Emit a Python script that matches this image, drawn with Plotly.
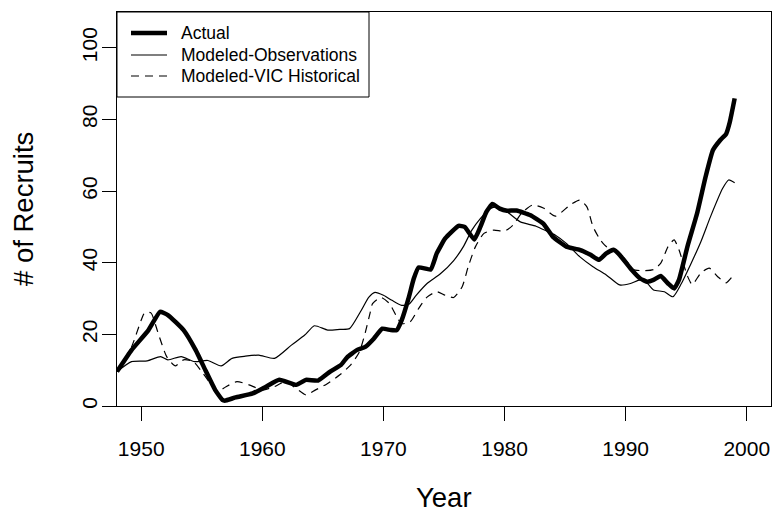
import plotly.graph_objects as go

# Recruit counts by year (fractional years where the series bends)
actual_year = [1948.0, 1949.2, 1950.6, 1951.55, 1952.2, 1953.5, 1954.5, 1955.3, 1956.1, 1956.7,
               1956.9, 1957.8, 1959.2, 1960.3, 1961.4, 1962.8, 1963.6, 1964.6, 1965.6, 1966.5,
               1967.0, 1967.8, 1968.5, 1969.2, 1969.9, 1970.6, 1971.1, 1971.5, 1972.1, 1972.5,
               1972.9, 1973.9, 1974.4, 1975.1, 1976.2, 1976.7, 1977.5, 1978.0, 1978.5, 1979.0,
               1979.6, 1980.2, 1981.0, 1982.1, 1983.2, 1984.0, 1985.1, 1986.2, 1987.1, 1987.8,
               1988.4, 1989.0, 1989.5, 1990.4, 1991.2, 1991.8, 1992.3, 1992.9, 1993.5, 1994.0,
               1994.4, 1995.1, 1995.9, 1996.6, 1997.2, 1997.8, 1998.3, 1998.6, 1999.0]
actual = [9.6, 15.6, 21.2, 26.3, 25.4, 21.2, 15.6, 10.0, 4.5, 1.7,
          1.5, 2.4, 3.5, 5.4, 7.3, 5.9, 7.3, 7.1, 9.6, 11.5,
          13.6, 15.6, 16.5, 18.8, 21.6, 21.2, 21.2, 23.9, 30.4, 35.5,
          38.7, 38.1, 42.6, 46.8, 50.3, 50.0, 46.5, 50.0, 54.2, 56.4,
          55.1, 54.5, 54.6, 53.3, 50.9, 47.2, 44.5, 43.6, 42.2, 40.8,
          42.6, 43.6, 42.2, 38.4, 35.6, 34.7, 35.2, 36.3, 34.2, 32.8,
          35.2, 44.5, 53.8, 64.0, 71.4, 74.2, 76.0, 79.3, 85.9]

obs_year = [1948.0, 1949.2, 1950.5, 1951.6, 1952.2, 1953.3, 1954.4, 1955.5, 1956.6, 1957.5,
            1958.6, 1959.7, 1961.0, 1962.4, 1963.5, 1964.3, 1965.4, 1966.4, 1967.2, 1968.1,
            1968.8, 1969.3, 1970.0, 1970.7, 1971.5, 1972.1, 1972.7, 1973.6, 1974.7, 1975.8,
            1976.6, 1977.3, 1978.0, 1978.8, 1979.4, 1980.2, 1981.3, 1982.6, 1983.5, 1984.2,
            1985.1, 1986.2, 1987.3, 1988.4, 1989.5, 1990.4, 1991.2, 1991.8, 1992.3, 1993.2,
            1993.9, 1994.6, 1995.4, 1996.2, 1997.0, 1998.0, 1998.5, 1999.0]
modeled_obs = [9.6, 12.4, 12.6, 13.8, 12.9, 13.8, 12.4, 12.7, 11.2, 13.3,
               13.9, 14.2, 13.3, 17.0, 19.8, 22.4, 21.2, 21.4, 21.6, 26.3,
               30.4, 31.7, 30.9, 29.5, 28.1, 28.4, 30.9, 34.2, 36.9, 40.6,
               44.5, 49.1, 52.3, 55.1, 55.6, 54.2, 51.4, 50.2, 48.8, 47.7,
               45.4, 41.7, 38.9, 36.6, 33.8, 34.2, 35.2, 34.2, 32.4, 31.9,
               30.5, 34.2, 39.8, 45.8, 52.8, 60.7, 63.1, 62.3]

vic_year = [1948.0, 1949.2, 1950.0, 1950.3, 1950.8, 1951.4, 1952.1, 1952.8, 1953.5, 1954.3,
            1955.1, 1955.9, 1956.3, 1957.0, 1957.9, 1958.9, 1960.0, 1961.0, 1961.9, 1962.8,
            1963.6, 1964.4, 1965.3, 1966.4, 1967.3, 1968.0, 1968.5, 1968.9, 1969.1, 1969.8,
            1970.5, 1971.1, 1971.5, 1972.2, 1972.9, 1973.6, 1974.4, 1975.1, 1975.8, 1976.5,
            1977.0, 1977.6, 1978.3, 1979.1, 1980.0, 1980.7, 1981.4, 1982.3, 1983.2, 1984.2,
            1985.4, 1986.2, 1986.8, 1987.3, 1987.9, 1988.4, 1989.2, 1990.1, 1990.6, 1991.5,
            1992.3, 1992.9, 1993.5, 1994.0, 1994.4, 1995.1, 1995.5, 1996.2, 1996.9, 1997.6,
            1998.3, 1998.8, 1999.0]
modeled_vic = [9.6, 16.5, 24.0, 26.1, 26.0, 20.3, 13.8, 11.2, 12.9, 12.4,
               9.1, 5.4, 4.0, 5.4, 6.8, 5.9, 4.5, 5.4, 6.8, 4.9,
               3.1, 4.5, 6.1, 8.7, 11.5, 15.0, 20.5, 26.0, 28.6, 30.3,
               28.6, 24.9, 23.0, 23.5, 27.2, 30.4, 31.9, 30.9, 30.3, 33.3,
               38.9, 44.5, 48.2, 49.1, 48.8, 50.5, 53.8, 56.1, 55.3, 53.0,
               56.1, 57.5, 55.6, 50.1, 46.4, 44.5, 43.6, 40.4, 38.1, 37.8,
               38.1, 39.9, 44.5, 46.4, 43.6, 36.3, 33.9, 37.1, 38.5, 36.1,
               34.4, 36.1, 37.0]

year_ticks = [1950, 1960, 1970, 1980, 1990, 2000]
recruit_ticks = [0, 20, 40, 60, 80, 100]

FONT = "Liberation Sans, Arial, Helvetica, sans-serif"
DASH = "8px,6px"

series = [
    ("Actual", actual_year, actual, dict(color="black", width=4.5, shape="spline", smoothing=0.4)),
    ("Modeled-Observations", obs_year, modeled_obs,
     dict(color="black", width=1.2, shape="spline", smoothing=0.6)),
    ("Modeled-VIC Historical", vic_year, modeled_vic,
     dict(color="black", width=1.2, dash=DASH, shape="spline", smoothing=0.6)),
]

fig = go.Figure()
for name, xs, ys, line in series:
    fig.add_trace(go.Scatter(x=xs, y=ys, mode="lines", name=name, line=line,
                             showlegend=False))

axis_common = dict(showline=True, linecolor="black", linewidth=1, mirror=True,
                   showgrid=False, zeroline=False, ticks="outside", ticklen=14,
                   tickwidth=1, tickcolor="black",
                   tickfont=dict(family=FONT, size=21, color="black"))

fig.update_xaxes(range=[1948, 2002], tickvals=year_ticks,
                 ticktext=[str(v) for v in year_ticks], ticklabelstandoff=10, **axis_common)
fig.update_yaxes(range=[0, 110], tickvals=recruit_ticks,
                 ticktext=[str(v) for v in recruit_ticks], tickangle=-90,
                 ticklabelstandoff=-3, **axis_common)

fig.add_annotation(text="Year", xref="paper", yref="paper", x=0.5, y=0,
                   xanchor="center", yanchor="middle", yshift=-91, showarrow=False,
                   font=dict(family=FONT, size=27.5, color="black"))
fig.add_annotation(text="# of Recruits", xref="paper", yref="paper", x=0, y=0.5,
                   xanchor="center", yanchor="middle", xshift=-94, textangle=-90,
                   showarrow=False, font=dict(family=FONT, size=27.5, color="black"))

# Boxed key in the top-left corner (plot area is 654 x 394 px)
PW, PH = 654.0, 394.0
fig.add_shape(type="rect", xref="paper", yref="paper",
              x0=0, x1=252 / PW, y0=1 - 85 / PH, y1=1,
              line=dict(color="black", width=1), fillcolor="white", layer="above")
key_rows = [21, 43, 64]  # px below the top of the plot area
for (name, _, _, line), row in zip(series, key_rows):
    yk = 1 - row / PH
    fig.add_shape(type="line", xref="paper", yref="paper",
                  x0=14 / PW, x1=50 / PW, y0=yk, y1=yk, layer="above",
                  line=dict(color="black", width=line["width"], dash=line.get("dash", "solid")))
    fig.add_annotation(text=name, xref="paper", yref="paper", x=62 / PW, y=yk,
                       xanchor="left", yanchor="middle", showarrow=False,
                       font=dict(family=FONT, size=17.5, color="black"))

fig.update_layout(
    width=772, height=510,
    margin=dict(l=117, r=1, t=12, b=104),
    paper_bgcolor="white", plot_bgcolor="white",
    showlegend=False,
)

fig.write_html("out.html")
